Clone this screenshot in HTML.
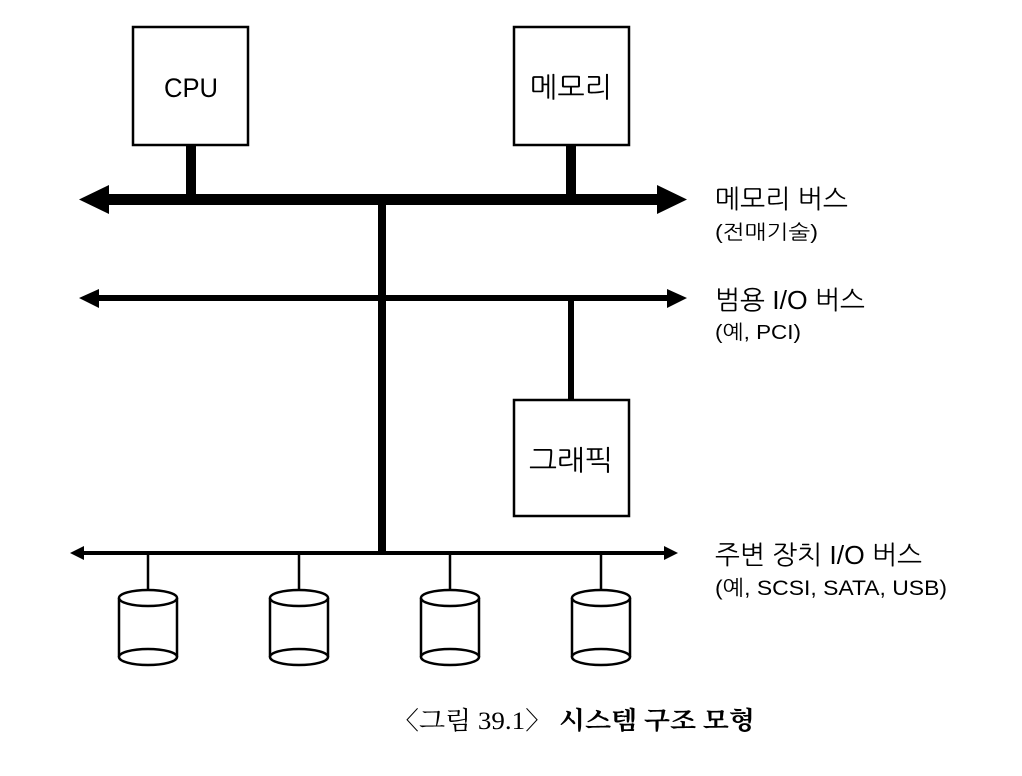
<!DOCTYPE html>
<html><head><meta charset="utf-8"><style>
body{margin:0;background:#fff;}
svg{display:block}
.s{font-family:"Liberation Sans","NanumGothic","Noto Sans CJK KR",sans-serif;fill:#000}
.c{font-family:"Liberation Serif","Noto Serif CJK SC","NanumGothic",serif;fill:#000}
</style></head><body>
<svg width="1022" height="776" viewBox="0 0 1022 776" xmlns="http://www.w3.org/2000/svg">
<rect x="0" y="0" width="1022" height="776" fill="#fff"/>
<g stroke="#000" fill="#fff" stroke-width="2.5">
<rect x="133" y="27" width="115" height="118"/>
<rect x="514" y="27" width="115" height="118"/>
<rect x="514" y="400" width="115" height="116"/>
</g>
<text class="s" x="191" y="97" font-size="27" text-anchor="middle" textLength="54" lengthAdjust="spacingAndGlyphs">CPU</text>
<text class="s" x="571" y="97" font-size="28" text-anchor="middle" textLength="82" lengthAdjust="spacingAndGlyphs">메모리</text>
<text class="s" x="571" y="470" font-size="28" text-anchor="middle" textLength="84" lengthAdjust="spacingAndGlyphs">그래픽</text>
<rect x="186" y="145" width="10" height="56" fill="#000"/>
<rect x="566" y="145" width="10" height="56" fill="#000"/>
<rect x="378" y="199" width="8" height="354" fill="#000"/>
<rect x="568" y="298" width="6" height="102" fill="#000"/>
<rect x="105" y="194" width="556" height="11" fill="#000"/>
<polygon points="79,199.5 109,185 109,214" fill="#000"/>
<polygon points="687,199.5 657,185 657,214" fill="#000"/>
<rect x="95" y="295" width="576" height="6" fill="#000"/>
<polygon points="79,298 99,289 99,308" fill="#000"/>
<polygon points="687,298 667,289 667,308" fill="#000"/>
<rect x="80" y="551" width="588" height="4" fill="#000"/>
<polygon points="70,553 84,546 84,560" fill="#000"/>
<polygon points="678,553 664,546 664,560" fill="#000"/>
<g stroke="#000" stroke-width="2.5" fill="#fff">
<g id="d">
<line x1="148" y1="553" x2="148" y2="590"/>
<path d="M119,598 L119,657 A29,8 0 0 0 177,657 L177,598"/>
<ellipse cx="148" cy="598" rx="29" ry="8"/>
<path d="M119,657 A29,8 0 0 1 177,657" fill="none"/>
</g>
<use href="#d" x="151"/>
<use href="#d" x="302"/>
<use href="#d" x="453"/>
</g>
<text class="s" x="715" y="208" font-size="26" textLength="133" lengthAdjust="spacingAndGlyphs">메모리 버스</text>
<text class="s" x="715" y="239" font-size="20" textLength="103" lengthAdjust="spacingAndGlyphs">(전매기술)</text>
<text class="s" x="715" y="309" font-size="26" textLength="150" lengthAdjust="spacingAndGlyphs">범용 I/O 버스</text>
<text class="s" x="715" y="339" font-size="20" textLength="86" lengthAdjust="spacingAndGlyphs">(예, PCI)</text>
<text class="s" x="715" y="564" font-size="26" textLength="207" lengthAdjust="spacingAndGlyphs">주변 장치 I/O 버스</text>
<text class="s" x="715" y="595" font-size="21" textLength="232" lengthAdjust="spacingAndGlyphs">(예, SCSI, SATA, USB)</text>
<text class="c" x="392" y="729" font-size="25" textLength="363" lengthAdjust="spacingAndGlyphs">〈그림 39.1〉 <tspan font-weight="bold">시스템 구조 모형</tspan></text>
</svg>
</body></html>
